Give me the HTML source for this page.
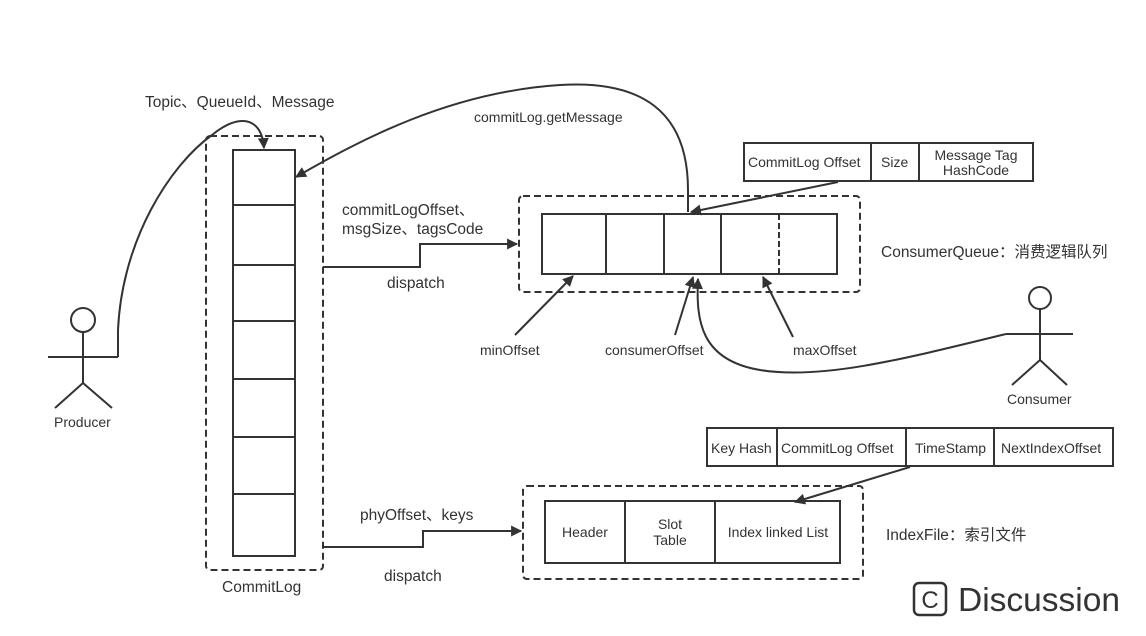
<!DOCTYPE html>
<html><head><meta charset="utf-8"><style>
html,body{margin:0;padding:0;background:#fff;}
text{font-family:"Liberation Sans","Noto Sans CJK SC",sans-serif;fill:#333;}
</style></head><body>
<svg width="1146" height="631" viewBox="0 0 1146 631" xmlns="http://www.w3.org/2000/svg">
<defs><marker id="a" viewBox="0 0 10 10" refX="9" refY="5" markerWidth="12" markerHeight="11" markerUnits="userSpaceOnUse" orient="auto"><path d="M0,0 L10,5 L0,10 z" fill="#333"/></marker></defs>
<g stroke="#333" stroke-width="2" fill="none">
<rect x="206" y="136" width="117" height="434" rx="4" stroke-dasharray="7,4"/>
<rect x="233" y="150" width="62" height="406"/>
<path d="M233 205H295M233 265H295M233 321H295M233 379H295M233 437H295M233 494H295"/>
<circle cx="83" cy="320" r="12"/>
<path d="M83 332V383M48 357H118M83 383L55 408M83 383L112 408"/>
<path d="M118 357V330C122 240 170 165 212 135C240 112 262 118 264 148" marker-end="url(#a)"/>
<path d="M688 212V190C688 110 640 80 560 85C450 92 360 140 296 177" marker-end="url(#a)"/>
<rect x="519" y="196" width="341" height="96" rx="4" stroke-dasharray="7,4"/>
<rect x="542" y="214" width="295" height="60"/>
<path d="M606 214V274M664 214V274M721 214V274"/>
<path d="M779 214V274" stroke-dasharray="6,3"/>
<path d="M323 267H420V244H517" marker-end="url(#a)"/>
<rect x="744" y="143" width="289" height="38"/>
<path d="M871 143V181M919 143V181"/>
<path d="M838 182L691 212" marker-end="url(#a)"/>
<path d="M515 335L573 276" marker-end="url(#a)"/>
<path d="M675 335L693 277" marker-end="url(#a)"/>
<path d="M793 337L763 277" marker-end="url(#a)"/>
<circle cx="1040" cy="298" r="11"/>
<path d="M1040 309V360M1006 334H1073M1040 360L1012 385M1040 360L1067 385"/>
<path d="M1006 334C900 360 820 380 760 370C700 360 696 320 698 279" marker-end="url(#a)"/>
<rect x="707" y="428" width="406" height="38"/>
<path d="M777 428V466M906 428V466M994 428V466"/>
<path d="M910 467L795 502" marker-end="url(#a)"/>
<rect x="523" y="486" width="340" height="93" rx="4" stroke-dasharray="7,4"/>
<rect x="545" y="501" width="295" height="62"/>
<path d="M625 501V563M715 501V563"/>
<path d="M323 547H423V531H521" marker-end="url(#a)"/>
<rect x="914" y="583" width="32" height="32" rx="5" stroke-width="2.5"/>
</g>
<g font-size="15.5">
<text x="145" y="107">Topic、QueueId、Message</text>
<text x="474" y="122" font-size="14">commitLog.getMessage</text>
<text x="342" y="215">commitLogOffset、</text>
<text x="342" y="234">msgSize、tagsCode</text>
<text x="387" y="288">dispatch</text>
<text x="222" y="592">CommitLog</text>
<text x="54" y="427" font-size="14">Producer</text>
<text x="1007" y="404" font-size="14">Consumer</text>
<text x="480" y="355" font-size="14">minOffset</text>
<text x="605" y="355" font-size="14">consumerOffset</text>
<text x="793" y="355" font-size="14">maxOffset</text>
<text x="881" y="257">ConsumerQueue：消费逻辑队列</text>
<text x="748" y="167" font-size="14">CommitLog Offset</text>
<text x="881" y="167" font-size="14">Size</text>
<text x="976" y="160" font-size="14" text-anchor="middle">Message Tag</text>
<text x="976" y="175" font-size="14" text-anchor="middle">HashCode</text>
<text x="711" y="453" font-size="14">Key Hash</text>
<text x="781" y="453" font-size="14">CommitLog Offset</text>
<text x="915" y="453" font-size="14">TimeStamp</text>
<text x="1001" y="453" font-size="14">NextIndexOffset</text>
<text x="585" y="537" font-size="14" text-anchor="middle">Header</text>
<text x="670" y="529" font-size="14" text-anchor="middle">Slot</text>
<text x="670" y="545" font-size="14" text-anchor="middle">Table</text>
<text x="778" y="537" font-size="14" text-anchor="middle">Index linked List</text>
<text x="360" y="520">phyOffset、keys</text>
<text x="384" y="581">dispatch</text>
<text x="886" y="540">IndexFile：索引文件</text>
<text x="930" y="608" font-size="24" text-anchor="middle">C</text>
<text x="958" y="611" font-size="33.5">Discussion</text>
</g>
</svg>
</body></html>
